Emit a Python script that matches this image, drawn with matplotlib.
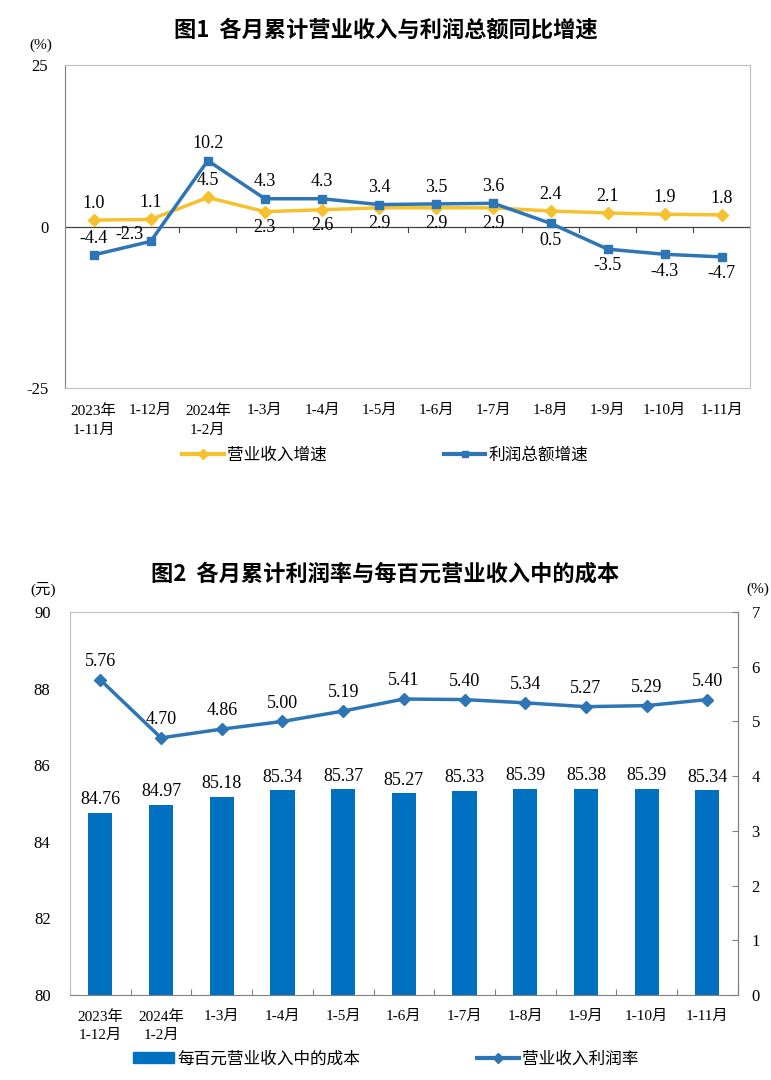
import numpy as np
import matplotlib.pyplot as plt
from matplotlib.lines import Line2D
from matplotlib.patches import Patch

plt.rcParams['font.family'] = ['Liberation Serif', 'Noto Sans CJK SC']
plt.rcParams['axes.unicode_minus'] = False

# figure 1 data
cats1 = ['2023年\n1-11月', '1-12月', '2024年\n1-2月', '1-3月', '1-4月', '1-5月',
         '1-6月', '1-7月', '1-8月', '1-9月', '1-10月', '1-11月']
revenue_growth = [1.0, 1.1, 4.5, 2.3, 2.6, 2.9, 2.9, 2.9, 2.4, 2.1, 1.9, 1.8]
profit_growth = [-4.4, -2.3, 10.2, 4.3, 4.3, 3.4, 3.5, 3.6, 0.5, -3.5, -4.3, -4.7]

# figure 2 data
cats2 = ['2023年\n1-12月', '2024年\n1-2月', '1-3月', '1-4月', '1-5月', '1-6月',
         '1-7月', '1-8月', '1-9月', '1-10月', '1-11月']
cost_per_100 = [84.76, 84.97, 85.18, 85.34, 85.37, 85.27, 85.33, 85.39, 85.38, 85.39, 85.34]
profit_rate = [5.76, 4.70, 4.86, 5.00, 5.19, 5.41, 5.40, 5.34, 5.27, 5.29, 5.40]

yellow = '#F5C12E'
blue = '#2E75B6'
bar_blue = '#0070C0'
frame = '#BFBFBF'

fig = plt.figure(figsize=(7.71, 10.8), dpi=100)
sans = ['Noto Sans CJK SC', 'DejaVu Sans']

# ---------------- chart 1 ----------------
ax1 = fig.add_axes([0.0843, 0.6407, 0.889, 0.2991])
x1 = np.arange(len(cats1))
ax1.plot(x1, revenue_growth, color=yellow, lw=2.5, marker='D', ms=6, zorder=3)
ax1.plot(x1, profit_growth, color=blue, lw=2.5, marker='s', ms=6, zorder=4)
ax1.set_xlim(-0.5, len(cats1) - 0.5)
ax1.set_ylim(-25, 25)
ax1.set_yticks([-25, 0, 25])
ax1.tick_params(axis='y', length=0, labelsize=12, pad=12)
ax1.set_xticks([])
for s in ['top', 'right', 'bottom']:
    ax1.spines[s].set_color(frame)
ax1.spines['left'].set_color('#808080')
ax1.axhline(0, color='#404040', lw=0.9, zorder=2)
for i in range(1, len(cats1)):
    ax1.plot([i - 0.5, i - 0.5], [0, -0.8], color='#404040', lw=0.8, zorder=2)
for i, c in enumerate(cats1):
    ax1.text(i, -27.5, c, ha='center', va='top', fontsize=11, linespacing=1.6)

for i, v in enumerate(revenue_growth):
    if 3 <= i <= 7:
        ax1.annotate(f'{v:.1f}', (i, v), xytext=(0, -5), textcoords='offset points',
                     ha='center', va='top', fontsize=13)
    else:
        ax1.annotate(f'{v:.1f}', (i, v), xytext=(0, 6), textcoords='offset points',
                     ha='center', va='bottom', fontsize=13)
for i, v in enumerate(profit_growth):
    if i >= 8:
        ax1.annotate(f'{v:.1f}', (i, v), xytext=(0, -6), textcoords='offset points',
                     ha='center', va='top', fontsize=13)
    elif i == 1:
        ax1.annotate(f'{v:.1f}', (i, v), xytext=(-15, 5), textcoords='offset points',
                     ha='center', va='center', fontsize=13, zorder=5)
    else:
        ax1.annotate(f'{v:.1f}', (i, v), xytext=(0, 6), textcoords='offset points',
                     ha='center', va='bottom', fontsize=13)
ax1.text(-0.035, 1.06, '(%)', transform=ax1.transAxes, ha='center', va='center', fontsize=11)

fig.text(0.5, 0.972, '图1  各月累计营业收入与利润总额同比增速', ha='center', va='center',
         fontsize=16, fontweight='bold', family=sans)

h1 = [Line2D([], [], color=yellow, lw=3, marker='D', ms=5),
      Line2D([], [], color=blue, lw=3, marker='s', ms=5)]
fig.legend(h1, ['营业收入增速', '利润总额增速'], loc='center', bbox_to_anchor=(0.5, 0.578),
           ncol=2, frameon=False, fontsize=12, handlelength=2.5, columnspacing=7,
           handletextpad=0.2)

# ---------------- chart 2 ----------------
ax2 = fig.add_axes([0.0908, 0.0787, 0.866, 0.3546])
x2 = np.arange(len(cats2))
ax2.bar(x2, cost_per_100, width=0.4, color=bar_blue, zorder=2)
ax2.set_xlim(-0.5, len(cats2) - 0.5)
ax2.set_ylim(80, 90)
ax2.set_yticks([80, 82, 84, 86, 88, 90])
ax2.tick_params(axis='y', length=0, labelsize=12, pad=14)
ax2.set_xticks(np.arange(-0.5, len(cats2), 1))
ax2.set_xticklabels([])
ax2.tick_params(axis='x', length=4, direction='in', color='#808080')
for s in ['top', 'left']:
    ax2.spines[s].set_color(frame)
ax2.spines['bottom'].set_color('#808080')
ax2.spines['right'].set_color('#808080')
for i, c in enumerate(cats2):
    ax2.text(i, 79.6, c, ha='center', va='top', fontsize=11, linespacing=1.5)
for i, v in enumerate(cost_per_100):
    ax2.text(i, v + 0.12, f'{v:.2f}', ha='center', va='bottom', fontsize=13)

ax3 = ax2.twinx()
ax3.plot(x2, profit_rate, color=blue, lw=2.5, marker='D', ms=6, zorder=4)
ax3.set_ylim(0, 7)
ax3.set_yticks(range(8))
ax3.tick_params(axis='y', length=4, direction='in', color='#808080', labelsize=12, pad=10)
for s in ['top', 'left', 'bottom']:
    ax3.spines[s].set_visible(False)
ax3.spines['right'].set_color('#808080')
for i, v in enumerate(profit_rate):
    ax3.annotate(f'{v:.2f}', (i, v), xytext=(0, 7), textcoords='offset points',
                 ha='center', va='bottom', fontsize=13)
ax2.text(-0.04, 1.06, '(元)', transform=ax2.transAxes, ha='center', va='center', fontsize=11)
ax2.text(1.03, 1.06, '(%)', transform=ax2.transAxes, ha='center', va='center', fontsize=11)

fig.text(0.5, 0.468, '图2  各月累计利润率与每百元营业收入中的成本', ha='center', va='center',
         fontsize=16, fontweight='bold', family=sans)

h2 = [Patch(color=bar_blue), Line2D([], [], color=blue, lw=3, marker='D', ms=5)]
fig.legend(h2, ['每百元营业收入中的成本', '营业收入利润率'], loc='center',
           bbox_to_anchor=(0.5, 0.019), ncol=2, frameon=False, fontsize=12,
           handlelength=2.5, columnspacing=7, handletextpad=0.2)

fig.savefig('out.png', dpi=100)
